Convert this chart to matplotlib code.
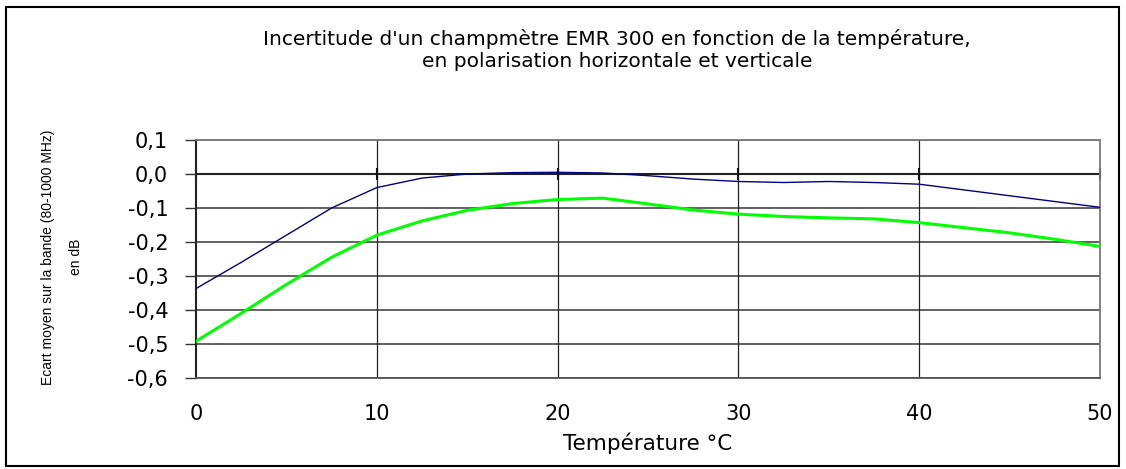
import matplotlib
matplotlib.use("Agg")
import matplotlib.pyplot as plt
from matplotlib.patches import Rectangle

plt.rcParams['font.family'] = ['DejaVu Sans']

temperature = [0, 2.5, 5, 7.5, 10, 12.5, 15, 17.5, 20, 22.5, 25, 27.5, 30,
               32.5, 35, 37.5, 40, 42.5, 45, 47.5, 50]
horizontal = [-0.337, -0.26, -0.18, -0.10, -0.04, -0.012, 0.0, 0.004, 0.005,
              0.003, -0.005, -0.015, -0.022, -0.025, -0.022, -0.025, -0.03,
              -0.047, -0.064, -0.081, -0.098]
verticale = [-0.492, -0.41, -0.325, -0.245, -0.180, -0.138, -0.107, -0.087,
             -0.075, -0.071, -0.088, -0.106, -0.118, -0.125, -0.129, -0.132,
             -0.143, -0.158, -0.173, -0.192, -0.213]
x_ticks = [0, 10, 20, 30, 40, 50]
y_ticks = [0.1, 0.0, -0.1, -0.2, -0.3, -0.4, -0.5, -0.6]
y_labels = ["0,1", "0,0", "-0,1", "-0,2", "-0,3", "-0,4", "-0,5", "-0,6"]
title = "Incertitude d'un champmètre EMR 300 en fonction de la température,\nen polarisation horizontale et verticale"
xlabel = "Température °C"
ylabel = "Ecart moyen sur la bande (80-1000 MHz)\nen dB"

fig = plt.figure(figsize=(11.26, 4.69), dpi=100)
ax = fig.add_axes([0.174, 0.194, 0.803, 0.5075])

ax.plot(temperature, verticale, color='#00FF00', lw=2.2, zorder=3)
ax.plot(temperature, horizontal, color='#000080', lw=1.0, zorder=4)

ax.set_xlim(0, 50)
ax.set_ylim(-0.6, 0.1)
ax.set_xticks(x_ticks)
ax.set_yticks(y_ticks)
ax.set_yticklabels(y_labels)
ax.tick_params(axis='y', length=8, width=1, color='#333333', pad=12, labelsize=15)
ax.tick_params(axis='x', length=0, pad=19, labelsize=15)

for y in y_ticks:
    ax.axhline(y, color='#555555', lw=1.3, zorder=1)
for x in x_ticks[1:-1]:
    ax.axvline(x, color='#222222', lw=0.9, zorder=1)

for side in ['top', 'right']:
    ax.spines[side].set_color('#777777')
    ax.spines[side].set_linewidth(1.3)
ax.spines['left'].set_color('#222222')
ax.spines['left'].set_linewidth(1.5)
ax.spines['bottom'].set_color('#555555')
ax.spines['bottom'].set_linewidth(1.3)

# horizontal axis crossing at 0 with tick marks
ax.axhline(0.0, color='#222222', lw=1.5, zorder=2)
ax.plot(x_ticks, [0.0] * len(x_ticks), ls='none', marker='|', ms=8, mew=1.5,
        color='#111111', zorder=2, clip_on=False)

ax.set_xlabel(xlabel, fontsize=15.5, labelpad=6)

fig.text(0.548, 0.893, title, ha='center', va='center', fontsize=14.5,
         linespacing=1.2)
fig.text(0.055, 0.452, ylabel, rotation=90, ha='center', va='center',
         fontsize=10, family=['Liberation Sans Narrow', 'Liberation Sans'],
         linespacing=2.3)

fig.patches.append(Rectangle((6 / 1126, 1 - 466 / 469), 1113 / 1126, 459 / 469,
                             transform=fig.transFigure, fill=False,
                             edgecolor='black', lw=1.5))

fig.savefig("out.png", dpi=100)
